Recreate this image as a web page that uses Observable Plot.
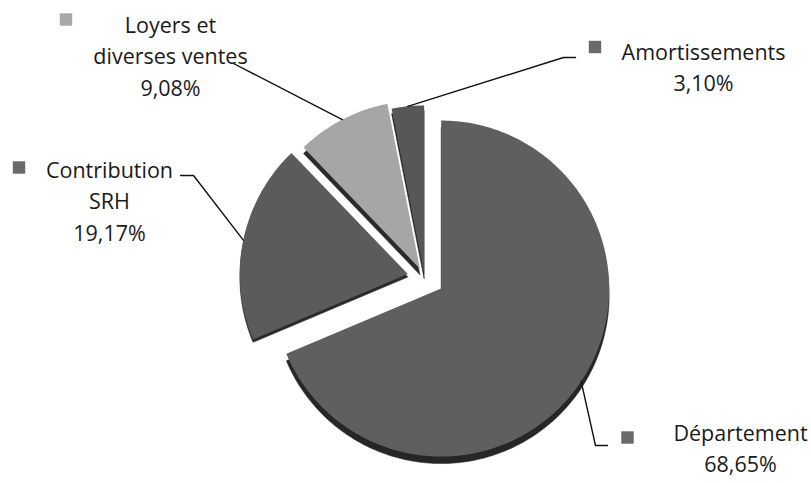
<!DOCTYPE html>
<html><head><meta charset="utf-8">
<script src="https://cdn.jsdelivr.net/npm/d3@7"></script>
<script src="https://cdn.jsdelivr.net/npm/@observablehq/plot@0.6"></script>
<style>html,body{margin:0;padding:0;background:#fff}#chart svg{display:block}</style>
</head><body><div id="chart"></div>
<script>
// ---- data ----
const categories = ["Département", "Contribution SRH", "Loyers et diverses ventes", "Amortissements"];
const shares = [68.65, 19.17, 9.08, 3.10];
const shareLabels = ["68,65%", "19,17%", "9,08%", "3,10%"];
const nameLines = [["Département"], ["Contribution", "SRH"], ["Loyers et", "diverses ventes"], ["Amortissements"]];

// ---- layout / style ----
const W = 811, H = 483;
const C = {x: 424, y: 277}, R = 168;
const depth = [7, 3, 6, 5];
const explode = [20, 17, 10, 4];
const faceFill = ["#5f5f5f", "#5b5b5b", "#a6a6a6", "#575757"];
const rimFill = ["#262626", "#2a2a2a", "#2a2a2a", "#222222"];
const markFill = ["#6a6a6a", "#6a6a6a", "#a8a8a8", "#6a6a6a"];
const FS = 21.5, LH = 31.5;
// label block: centre x, first baseline, marker centre, leader points from text side
const layout = [
  {cx: 740, base: 440, mk: [627, 437], lead: [[607, 445], [595, 445]]},
  {cx: 109, base: 177, mk: [18.5, 167], lead: [[180, 175], [193, 175]]},
  {cx: 170, base: 32, mk: [65.5, 19], lead: [[233, 63]]},
  {cx: 703, base: 59, mk: [594.5, 46.5], lead: [[575, 57], [563, 57]]}
];

const arcs = d3.pie().sort(null).value(d => d)(shares);
const pt = (cx, cy, a, r) => [cx + r * Math.sin(a), cy - r * Math.cos(a)];
const slices = arcs.map((a, i) => {
  const mid = (a.startAngle + a.endAngle) / 2;
  const [ax, ay] = pt(C.x, C.y, mid, explode[i]);
  return {i, a0: a.startAngle, a1: a.endAngle, mid, ax, ay};
});
function polygon(s, dy) {
  const pts = [[s.ax, s.ay + dy]];
  const n = Math.max(4, Math.ceil((s.a1 - s.a0) / (Math.PI / 180)));
  for (let k = 0; k <= n; k++) {
    const a = s.a0 + (s.a1 - s.a0) * k / n;
    const [x, y] = pt(s.ax, s.ay, a, R);
    pts.push([x, y + dy]);
  }
  pts.push([s.ax, s.ay + dy]);
  return pts.map(([x, y]) => ({x, y, cat: categories[s.i], i: s.i}));
}
const drawOrder = [0, 1, 2, 3];
const rimPts = drawOrder.flatMap(i => polygon(slices[i], depth[i]));
const facePts = drawOrder.flatMap(i => polygon(slices[i], 0));

const leaders = slices.flatMap(s => {
  const L = layout[s.i];
  const end = pt(s.ax, s.ay, s.mid, R);
  return [...L.lead, end].map(([x, y]) => ({x, y, cat: categories[s.i]}));
});

const texts = [];
categories.forEach((c, i) => {
  const lines = [...nameLines[i], shareLabels[i]];
  lines.forEach((t, k) => texts.push({x: layout[i].cx, y: layout[i].base + k * LH - 0.32 * FS, t}));
});
const markers = categories.map((c, i) => ({x: layout[i].mk[0], y: layout[i].mk[1], i}));

const chart = Plot.plot({
  width: W, height: H, margin: 0,
  x: {domain: [0, W], range: [0, W], axis: null},
  y: {domain: [0, H], range: [0, H], axis: null},
  style: {fontFamily: "'Open Sans', sans-serif", background: "#fff"},
  marks: [
    Plot.line(rimPts, {x: "x", y: "y", z: "cat", fill: d => rimFill[d.i], stroke: d => rimFill[d.i], strokeWidth: 0.5}),
    Plot.line(facePts, {x: "x", y: "y", z: "cat", fill: d => faceFill[d.i], stroke: "none"}),
    Plot.line(leaders, {x: "x", y: "y", z: "cat", stroke: "#111", strokeWidth: 1.4}),
    Plot.dot(markers, {x: "x", y: "y", symbol: "square", r: 7, fill: d => markFill[d.i], stroke: "none"}),
    Plot.text(texts, {x: "x", y: "y", text: "t", textAnchor: "middle", lineAnchor: "middle", fontSize: FS, fill: "#1a1a1a"})
  ]
});
document.getElementById("chart").append(chart);
</script></body></html>
